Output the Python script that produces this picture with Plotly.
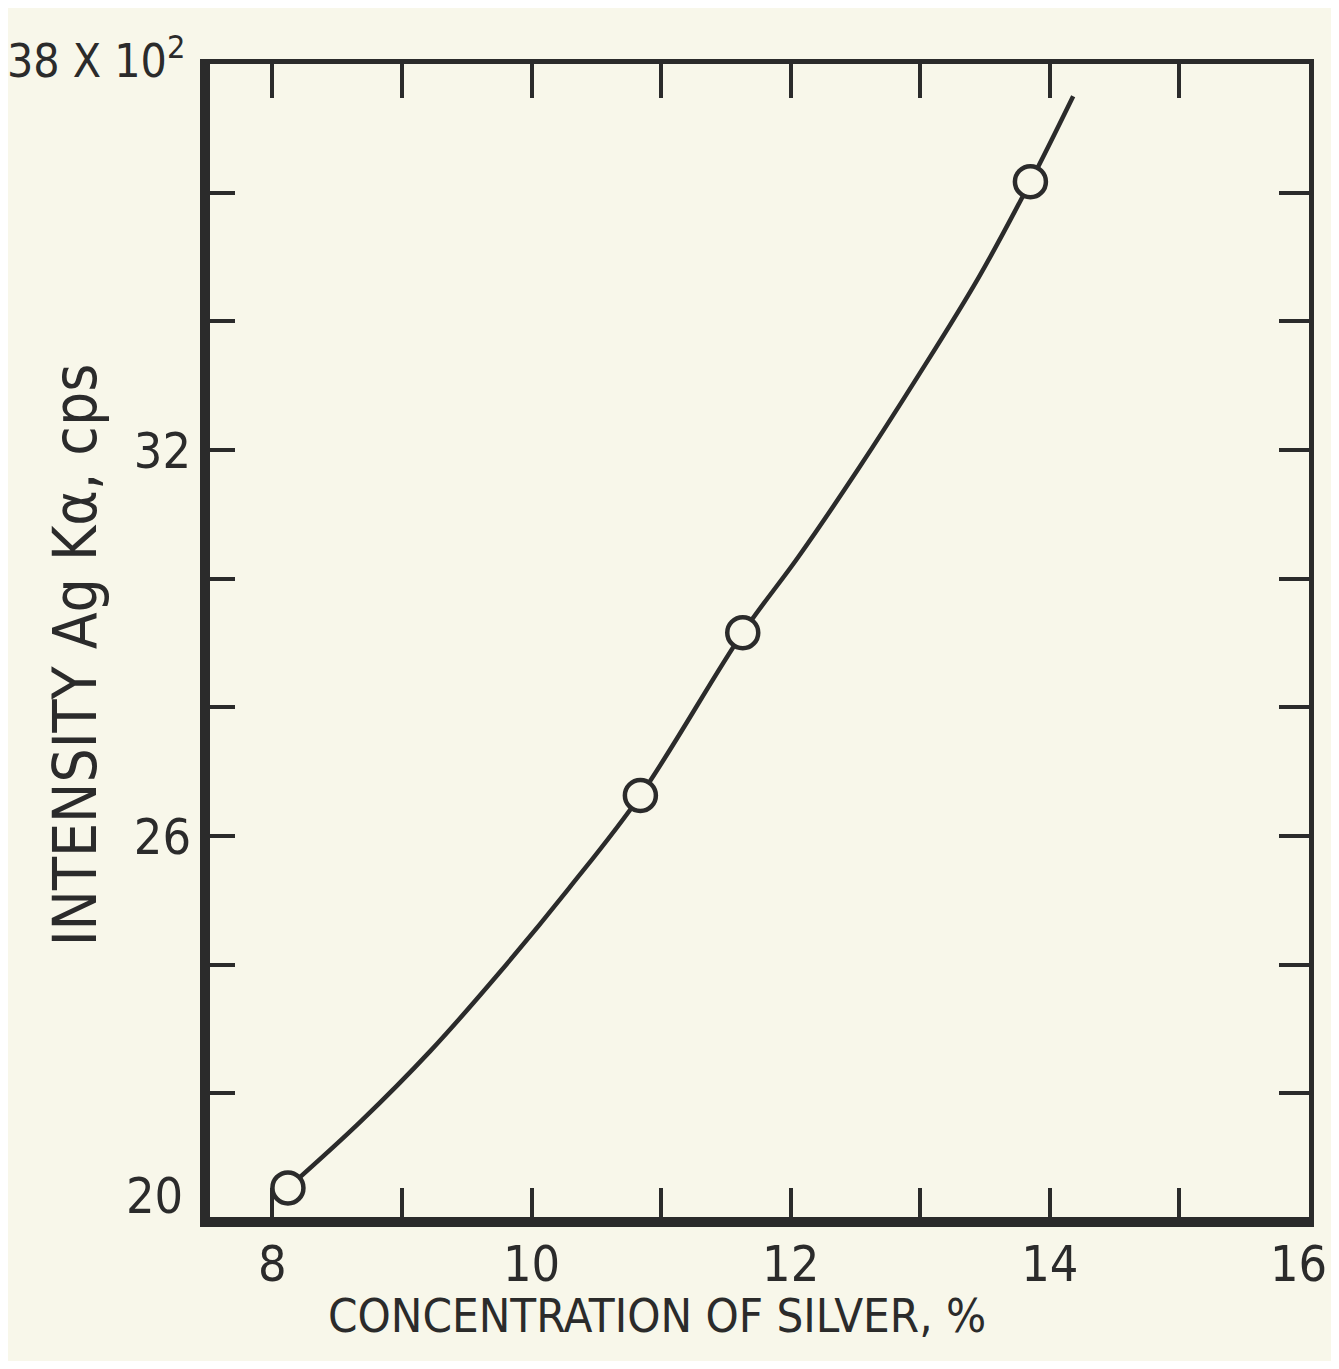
import plotly.graph_objects as go

# Measured points (open circles)
conc_points = [8.12, 10.84, 11.63, 13.85]
intensity_points = [20.53, 26.63, 29.16, 36.17]

# Hand-drawn calibration curve, read along its path
curve_x = [8.12, 8.68, 9.22, 9.75, 10.29, 10.84, 11.63, 12.06, 12.52, 12.98, 13.45, 13.85, 14.18]
curve_y = [20.53, 21.56, 22.66, 23.87, 25.19, 26.63, 29.16, 30.34, 31.70, 33.14, 34.68, 36.17, 37.50]

x_tickvals = [8, 9, 10, 11, 12, 13, 14, 15, 16]
x_ticktext = ["8", "", "10", "", "12", "", "14", "", ""]
x_last_label = "16"
y_tickvals = [20, 22, 24, 26, 28, 30, 32, 34, 36, 38]
y_ticktext = ["", "", "", "26", "", "", "32", "", "", ""]
y_bottom_label = "20"
y_top_label = "38 X 10<sup>2</sup>"

BG = "#f8f7ea"
INK = "#2b2b2b"
FONT = "Liberation Sans Narrow, DejaVu Sans Condensed, Arial Narrow, sans-serif"

fig = go.Figure()
fig.add_trace(go.Scatter(
    x=curve_x, y=curve_y, mode="lines",
    line=dict(color=INK, width=4.5, shape="spline", smoothing=1.0),
    hoverinfo="skip", showlegend=False,
))
fig.add_trace(go.Scatter(
    x=conc_points, y=intensity_points, mode="markers",
    marker=dict(symbol="circle", size=31, color=BG, line=dict(color=INK, width=4.5)),
    showlegend=False,
))

axis_common = dict(
    showgrid=False, zeroline=False, showline=True, linecolor=INK, linewidth=5,
    mirror="ticks", ticks="inside", tickcolor=INK, tickwidth=4, automargin=False,
    tickfont=dict(family=FONT, size=50, color=INK),
)
fig.update_xaxes(range=[7.48, 16.0], tickvals=x_tickvals, ticktext=x_ticktext,
                 ticklen=34, ticklabelstandoff=-6, **axis_common)
fig.update_yaxes(range=[20, 38], tickvals=y_tickvals, ticktext=y_ticktext,
                 ticklen=30, ticklabelstandoff=-1, **axis_common)

# thicker left and bottom frame lines
fig.add_shape(type="line", xref="paper", yref="paper", x0=0, x1=0, y0=0, y1=1,
              line=dict(color=INK, width=10))
fig.add_shape(type="line", xref="paper", yref="paper", x0=0, x1=1, y0=0, y1=0,
              line=dict(color=INK, width=10))

# end labels of the scales
fig.add_annotation(text=y_bottom_label, xref="paper", yref="y", x=0, y=20,
                   xanchor="right", yanchor="middle", xshift=-20, yshift=26,
                   showarrow=False, font=dict(family=FONT, size=50, color=INK))
fig.add_annotation(text=y_top_label, xref="paper", yref="y", x=0, y=38,
                   xanchor="right", yanchor="middle", xshift=-18, yshift=6,
                   showarrow=False, font=dict(family=FONT, size=46, color=INK))
fig.add_annotation(text=x_last_label, xref="x", yref="paper", x=16, y=0,
                   xanchor="right", yanchor="middle", xshift=20, yshift=-42,
                   showarrow=False, font=dict(family=FONT, size=50, color=INK))

fig.add_annotation(text="CONCENTRATION OF SILVER, %", xref="paper", yref="paper",
                   x=0.409, y=-0.081, xanchor="center", yanchor="middle", showarrow=False,
                   font=dict(family=FONT, size=47, color=INK))
fig.add_annotation(text="INTENSITY Ag Kα, cps", xref="paper", yref="paper",
                   x=-0.118, y=0.49, xanchor="center", yanchor="middle", showarrow=False,
                   textangle=-90, font=dict(family=FONT, size=60, color=INK))

# page body has an 8px margin, so the figure is shifted accordingly
fig.update_layout(
    width=1331, height=1353,
    margin=dict(l=197, r=30, t=56, b=139),
    paper_bgcolor=BG, plot_bgcolor=BG,
    showlegend=False,
)
fig.write_html("out.html")
